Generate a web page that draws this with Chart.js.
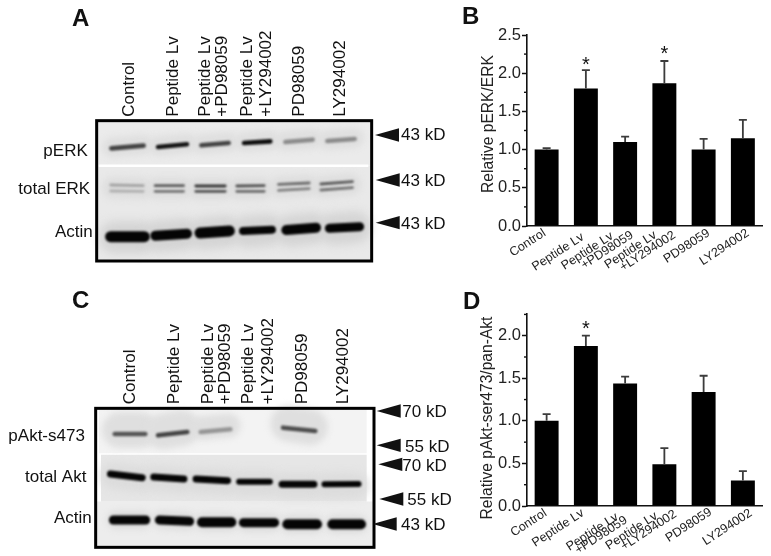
<!DOCTYPE html>
<html><head><meta charset="utf-8">
<script src="https://cdn.jsdelivr.net/npm/chart.js@4"></script>
<style>
html,body{margin:0;padding:0;background:#fff;width:771px;height:556px;overflow:hidden}
canvas{position:absolute;display:block}
</style></head><body>
<canvas id="a" width="460" height="285" style="left:0;top:0"></canvas>
<canvas id="c" width="460" height="271" style="left:0;top:285px"></canvas>
<canvas id="b" width="311" height="285" style="left:460px;top:0"></canvas>
<canvas id="d" width="311" height="271" style="left:460px;top:285px"></canvas>
<script>
// ---------- bar chart data ----------
const barCategories = ["Control","Peptide Lv",["Peptide Lv","+PD98059"],["Peptide Lv","+LY294002"],"PD98059","LY294002"];
const perkMeans   = [1.00,1.80,1.10,1.87,1.00,1.15];
const perkErrTops = [1.02,2.04,1.17,2.16,1.14,1.39];
const perkStars   = [null,2.173,null,2.317,null,null];
const aktMeans    = [1.00,1.88,1.44,0.49,1.34,0.30];
const aktErrTops  = [1.08,2.00,1.52,0.68,1.53,0.41];
const aktStars    = [null,2.14,null,null,null,null];
const perkMinor   = [0.25,0.75,1.25,1.75,2.25];
const aktMinor    = [0.25,0.75,1.25,1.75,2.25];

// ---------- blot data (lane position start/end, migration start/end) ----------
const laneLabelsA = [["Control"],["Peptide Lv"],["Peptide Lv","+PD98059"],["Peptide Lv","+LY294002"],["PD98059"],["LY294002"]];
const laneLabelsC = laneLabelsA;
const laneTextA = [383,515,612,662,738,795,895,1018];
const laneTextC = [388,518,622,672,742,802,902,1025];
const perkBands  = [[330,435,445,437],[470,565,441,433],[600,690,436,429],[728,815,429,424],[852,942,426,419],[978,1068,423,417]];
const perkDark   = [.72,.92,.72,.95,.42,.42];
const erkUpper   = [[330,432,555,557],[463,553,557,557],[585,678,558,558],[708,795,558,557],[833,930,553,549],[960,1060,552,545]];
const erkLower   = [[330,432,573,574],[463,553,574,574],[585,678,574,574],[708,795,574,574],[833,930,571,566],[960,1060,570,563]];
const erkDark    = [.32,.62,.78,.66,.55,.62];
const actinA     = [[322,443,710,710],[457,570,707,701],[590,698,699,693],[722,823,693,689],[850,957,690,683],[980,1087,685,680]];
const actinAThick= [11,10,11,8,10,9];
const paktBands  = [[340,440,447,447],[470,566,451,441],[598,695,441,433],[845,950,428,438]];
const paktDark   = [.65,.72,.38,.68];
const aktBands   = [[325,433,567,578],[455,558,576,582],[582,689,582,587],[712,815,590,590],[840,948,598,598],[968,1081,598,597]];
const aktThick   = [7,7,7,6,7,6];
const actinC     = [[332,445,705,705],[470,577,705,709],[597,703,712,712],[722,832,713,713],[853,960,718,718],[988,1092,718,718]];
const actinCThick= [9,9,10,9,10,10];
// per-label end point of each rotated tick line, relative to its tick and the axis
const perkLabelEnds = [[[-2,6]],[[-3,10]],[[-13,9],[7,8]],[[-9,8],[10,8]],[[5,6]],[[5,6]]];
const aktLabelEnds  = [[[-1,6]],[[-3,6]],[[-8,10],[1,13]],[[-8,9],[11,7]],[[7,5]],[[8,6]]];

const FONT = '"Liberation Sans", Arial, sans-serif';
const seg = (b,width,color,blur,cap) => ({showLine:true,pointRadius:0,clip:false,tension:0,
  data:[{x:b[0],y:b[2]},{x:b[1],y:b[3]}],borderColor:color,borderWidth:width,borderCapStyle:cap||'round',blur:blur||0});
// a band whose rounded ends stay inside the lane extent
const band = (b,width,color,blur) => seg([b[0]+width*.9,b[1]-width*.9,b[2],b[3]],width,color,blur);
const grey = d => { const v=Math.round(240*(1-d)); return `rgb(${v},${v},${v})`; };

const blurPlugin = {id:'blur',
  beforeDatasetDraw(ch,args){const b=ch.data.datasets[args.index].blur; ch.ctx.save(); if(b) ch.ctx.filter=`blur(${b}px)`;},
  afterDatasetDraw(ch){ch.ctx.restore();}
};
function blotPlugin(cfg){return {id:'blotDecor',
  afterDatasetsDraw(ch){
    const c=ch.ctx,X=v=>ch.scales.x.getPixelForValue(v),Y=v=>ch.scales.y.getPixelForValue(v);
    c.save();
    c.strokeStyle='#000';c.lineWidth=3;c.strokeRect(X(cfg.frame[0]),Y(cfg.frame[2]),X(cfg.frame[1])-X(cfg.frame[0]),Y(cfg.frame[3])-Y(cfg.frame[2]));
    c.fillStyle='#111';c.textBaseline='alphabetic';
    c.font='bold 24px '+FONT;c.textAlign='left';c.fillText(cfg.letter[0],X(cfg.letter[1]),Y(cfg.letter[2]));
    c.font='17px '+FONT;
    cfg.side.forEach(s=>{c.textAlign='left';c.fillText(s[0],X(s[1]),Y(s[2]));});
    cfg.kd.forEach(k=>{
      c.beginPath();c.moveTo(X(k[1]),Y(k[2]));c.lineTo(X(k[1]+72),Y(k[2]-20));c.lineTo(X(k[1]+72),Y(k[2]+20));c.closePath();c.fill();
      c.fillText(k[0],X(k[3]),Y(k[4]));
    });
    let i=0;
    cfg.lanes.forEach(l=>l.forEach(t=>{
      c.save();c.translate(X(cfg.laneX[i])+6,Y(cfg.laneBase));c.rotate(-Math.PI/2);c.textAlign='left';c.fillText(t,0,0);c.restore();i++;
    }));
    c.restore();
  }};
}
function blot(id,h,datasets,cfg){
  new Chart(document.getElementById(id),{type:'scatter',data:{datasets:datasets.reverse()},plugins:[blurPlugin,blotPlugin(cfg)],
    options:{responsive:false,animation:false,events:[],layout:{autoPadding:false,padding:0},
      plugins:{legend:{display:false},tooltip:{enabled:false}},
      scales:{x:{display:false,min:0,max:1380},y:{display:false,reverse:true,min:0,max:h}}}});
}
// Panel A
const dsA=[seg([293,1113,430,430],45,'#ebebeb',0,'butt'),seg([293,1113,640,640],95,'#e9e9e9',0,'butt'),
  seg([296,1105,497,497],2.5,'#ffffff',0,'butt')];
perkBands.forEach(b=>dsA.push(band([b[0]-12,b[1]+12,b[2]-3,b[3]-3],20,'#dfdfdf',3)));
erkUpper.forEach(b=>dsA.push(band([b[0]-10,b[1]+10,b[2]+8,b[3]+8],22,'#dedede',3)));
actinA.forEach(b=>dsA.push(band([b[0]-6,b[1]+6,b[2]+2,b[3]+2],32,'#d4d4d4',5)));
perkBands.forEach((b,i)=>dsA.push(band(b,4.6,grey(perkDark[i]),1)));
erkUpper.forEach((b,i)=>dsA.push(band(b,2.8,grey(erkDark[i]),.9)));
erkLower.forEach((b,i)=>dsA.push(band(b,2.8,grey(erkDark[i]*.85),.9)));
actinA.forEach((b,i)=>dsA.push(band(b,actinAThick[i],'#050505',1)));
blot('a',855,dsA,{frame:[290,1115,362,783],letter:['A',216,78],
  side:[['pERK',130,468],['total ERK',55,583],['Actin',165,710]],
  kd:[['43 kD',1125,405,1203,420],['43 kD',1127,540,1203,557],['43 kD',1127,668,1203,688]],
  lanes:laneLabelsA,laneX:laneTextA,laneBase:350});
// Panel C
const dsC=[seg([297,1100,437,437],45,'#f3f3f3',0,'butt'),
  seg([303,1100,580,580],47,'#e6e6e6',0,'butt'),seg([290,1120,717,717],45,'#ededed',0,'butt')];
paktBands.forEach((b,i)=>dsC.push(band([b[0]-12,b[1]+12,b[2]-12,b[3]-12],i==2?24:36,'#dfdfdf',3)));
aktBands.forEach(b=>dsC.push(band([b[0]-8,b[1]+8,b[2]+5,b[3]+5],26,'#dcdcdc',4)));
actinC.forEach(b=>dsC.push(band(b,18,'#dcdcdc',3)));
paktBands.forEach((b,i)=>dsC.push(band(b,4.6,grey(paktDark[i]),1.3)));
aktBands.forEach((b,i)=>dsC.push(band(b,aktThick[i],'#050505',1)));
actinC.forEach((b,i)=>dsC.push(band(b,actinCThick[i],'#050505',1)));
blot('c',813,dsC,{frame:[287,1122,370,787],letter:['C',216,70],
  side:[['pAkt-s473',25,468],['total Akt',75,590],['Actin',162,715]],
  kd:[['70 kD',1130,378,1207,397],['55 kD',1130,481,1215,500],['70 kD',1135,538,1207,557],['55 kD',1138,642,1222,660],['43 kD',1118,717,1203,735]],
  lanes:laneLabelsC,laneX:laneTextC,laneBase:358});

// ---------- bar charts ----------
const errPlugin = (tops,stars,minor,letter,lx,ly,title,tx,ty,ends) => ({id:'err',
  afterDatasetsDraw(ch){
    const c=ch.ctx,m=ch.getDatasetMeta(0),y=ch.scales.y,x=ch.scales.x;
    c.save();c.lineCap='butt';
    m.data.forEach((bar,i)=>{
      const t=y.getPixelForValue(tops[i]),b=y.getPixelForValue(ch.data.datasets[0].data[i]);
      c.strokeStyle='#3c3c3c';c.lineWidth=1.8;
      c.beginPath();c.moveTo(bar.x,b);c.lineTo(bar.x,t);c.moveTo(bar.x-4,t);c.lineTo(bar.x+4,t);c.stroke();
      if(stars[i]!=null){c.fillStyle='#111';c.font='20px '+FONT;c.textAlign='center';c.textBaseline='alphabetic';c.fillText('*',bar.x,y.getPixelForValue(stars[i])+11.4);}
    });
    c.strokeStyle='#111';c.lineWidth=1.4;
    minor.forEach(v=>{const p=y.getPixelForValue(v);c.beginPath();c.moveTo(x.left-3,p);c.lineTo(x.left,p);c.stroke();});
    // rotated category labels, one anchored line at a time from the category scale
    c.fillStyle='#222';c.font='12.5px '+FONT;c.textAlign='right';c.textBaseline='middle';
    ch.data.labels.forEach((lab,i)=>{
      [].concat(lab).forEach((line,j)=>{
        c.save();c.translate(x.getPixelForTick(i)+ends[i][j][0],x.top+ends[i][j][1]);c.rotate(-33*Math.PI/180);c.fillText(line,0,0);c.restore();
      });
    });
    c.fillStyle='#111';c.font='bold 24px '+FONT;c.textAlign='left';c.textBaseline='alphabetic';c.fillText(letter,lx,ly);
    c.fillStyle='#222';c.font='15.6px '+FONT;c.textAlign='center';c.textBaseline='middle';
    c.translate(tx,ty);c.rotate(-Math.PI/2);c.fillText(title,0,0);
    c.restore();
  }});
function bars(id,means,tops,stars,minor,max,title,letter,lx,ly,top,bottomH,tx,ty,ends){
  new Chart(document.getElementById(id),{type:'bar',
    data:{labels:barCategories,datasets:[{data:means,backgroundColor:'#000',barPercentage:.61,categoryPercentage:1}]},
    plugins:[errPlugin(tops,stars,minor,letter,lx,ly,title,tx,ty,ends)],
    options:{responsive:false,animation:false,events:[],
      layout:{autoPadding:false,padding:{top:top,left:0,right:8.5,bottom:0}},
      plugins:{legend:{display:false},tooltip:{enabled:false}},
      scales:{
        x:{offset:true,grid:{display:false,drawTicks:false},border:{color:'#111',width:1.6},
           afterFit(s){s.height=bottomH;},
           ticks:{display:false}},
        y:{min:0,max:max,grid:{drawOnChartArea:false,drawTicks:true,tickLength:5,tickColor:'#111',tickWidth:1.5},border:{color:'#111',width:1.6},
           afterFit(s){s.width=67;},
           ticks:{stepSize:.5,includeBounds:false,padding:1,color:'#222',font:{family:FONT,size:16.5},callback:v=>v.toFixed(1)}}
      }}});
}
bars('b',perkMeans,perkErrTops,perkStars,perkMinor,2.5,'Relative pERK/ERK','B',2,24,35,59,29,124,perkLabelEnds);
bars('d',aktMeans,aktErrTops,aktStars,aktMinor,2.255,'Relative pAkt-ser473/pan-Akt','D',3,24,29,50,28,133,aktLabelEnds);
</script>
</body></html>
